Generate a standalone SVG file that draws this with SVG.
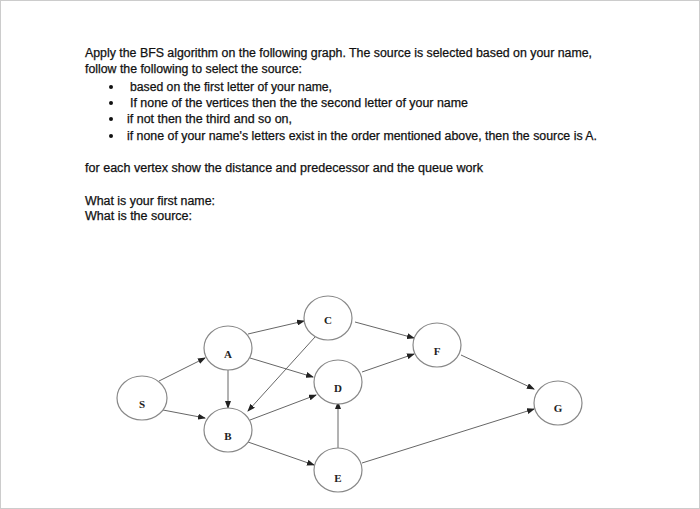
<svg xmlns="http://www.w3.org/2000/svg" width="700" height="509" viewBox="0 0 700 509">
<style>
.t{font-family:"Liberation Sans",Arial,sans-serif;font-size:12px;fill:#111;stroke:#111;stroke-width:0.25}
.n ellipse{fill:#fff;stroke:#888;stroke-width:1.2}
.n text{font-family:"Liberation Serif","Times New Roman",serif;font-size:11px;font-weight:bold;fill:#222;text-anchor:middle}
.e line{stroke:#666;stroke-width:1;marker-end:url(#ar)}
</style>
<defs><marker id="ar" markerWidth="8" markerHeight="6" refX="7" refY="3" orient="auto" markerUnits="userSpaceOnUse"><path d="M0,0L8,3L0,6z" fill="#222"/></marker></defs>
<rect x="0" y="0" width="700" height="509" fill="#fff"/>
<rect x="0.5" y="0.5" width="699" height="508" fill="none" stroke="#ccc"/>
<text class="t" x="85" y="57" textLength="507" lengthAdjust="spacingAndGlyphs">Apply the BFS algorithm on the following graph. The source is selected based on your name,</text>
<text class="t" x="85" y="73" textLength="217" lengthAdjust="spacingAndGlyphs">follow the following to select the source:</text>
<g fill="#111"><circle cx="111" cy="87" r="2"/><circle cx="111" cy="103" r="2"/><circle cx="111" cy="119" r="2"/><circle cx="111" cy="136" r="2"/></g>
<text class="t" x="130" y="91" textLength="202" lengthAdjust="spacingAndGlyphs">based on the first letter of your name,</text>
<text class="t" x="130" y="107" textLength="338" lengthAdjust="spacingAndGlyphs">If none of the vertices then the the second letter of your name</text>
<text class="t" x="127" y="123" textLength="165" lengthAdjust="spacingAndGlyphs">if not then the third and so on,</text>
<text class="t" x="127" y="140" textLength="470" lengthAdjust="spacingAndGlyphs">if none of your name's letters exist in the order mentioned above, then the source is A.</text>
<text class="t" x="85" y="172" textLength="398" lengthAdjust="spacingAndGlyphs">for each vertex show the distance  and predecessor and the queue work</text>
<text class="t" x="85" y="205" textLength="130" lengthAdjust="spacingAndGlyphs">What is your first name:</text>
<text class="t" x="85" y="220" textLength="107" lengthAdjust="spacingAndGlyphs">What is the source:</text>
<g class="e">
<line x1="159" y1="381" x2="205" y2="358"/>
<line x1="163" y1="410" x2="205" y2="418"/>
<line x1="248" y1="334" x2="304" y2="321"/>
<line x1="250" y1="358" x2="313" y2="377"/>
<line x1="228" y1="370" x2="228" y2="408"/>
<line x1="315" y1="337" x2="248" y2="411"/>
<line x1="250" y1="420" x2="316" y2="395"/>
<line x1="248" y1="442" x2="314" y2="465"/>
<line x1="355" y1="322" x2="414" y2="338"/>
<line x1="362" y1="372" x2="414" y2="354"/>
<line x1="338" y1="448" x2="338" y2="402"/>
<line x1="362" y1="463" x2="534" y2="409"/>
<line x1="461" y1="355" x2="534" y2="389"/>
</g>
<g id="S" class="n"><ellipse cx="142" cy="398" rx="25" ry="22"/><text x="142" y="408">S</text></g>
<g id="A" class="n"><ellipse cx="228" cy="348" rx="24" ry="22"/><text x="228" y="358">A</text></g>
<g id="B" class="n"><ellipse cx="228" cy="430" rx="24" ry="22"/><text x="228" y="440">B</text></g>
<g id="C" class="n"><ellipse cx="328" cy="318" rx="24" ry="22"/><text x="328" y="324">C</text></g>
<g id="D" class="n"><ellipse cx="338" cy="382" rx="24" ry="22"/><text x="338" y="392">D</text></g>
<g id="E" class="n"><ellipse cx="338" cy="470" rx="24" ry="22"/><text x="338" y="482">E</text></g>
<g id="F" class="n"><ellipse cx="437" cy="345" rx="24" ry="22"/><text x="437" y="355">F</text></g>
<g id="G" class="n"><ellipse cx="558" cy="403" rx="24" ry="22"/><text x="558" y="412">G</text></g>
</svg>
